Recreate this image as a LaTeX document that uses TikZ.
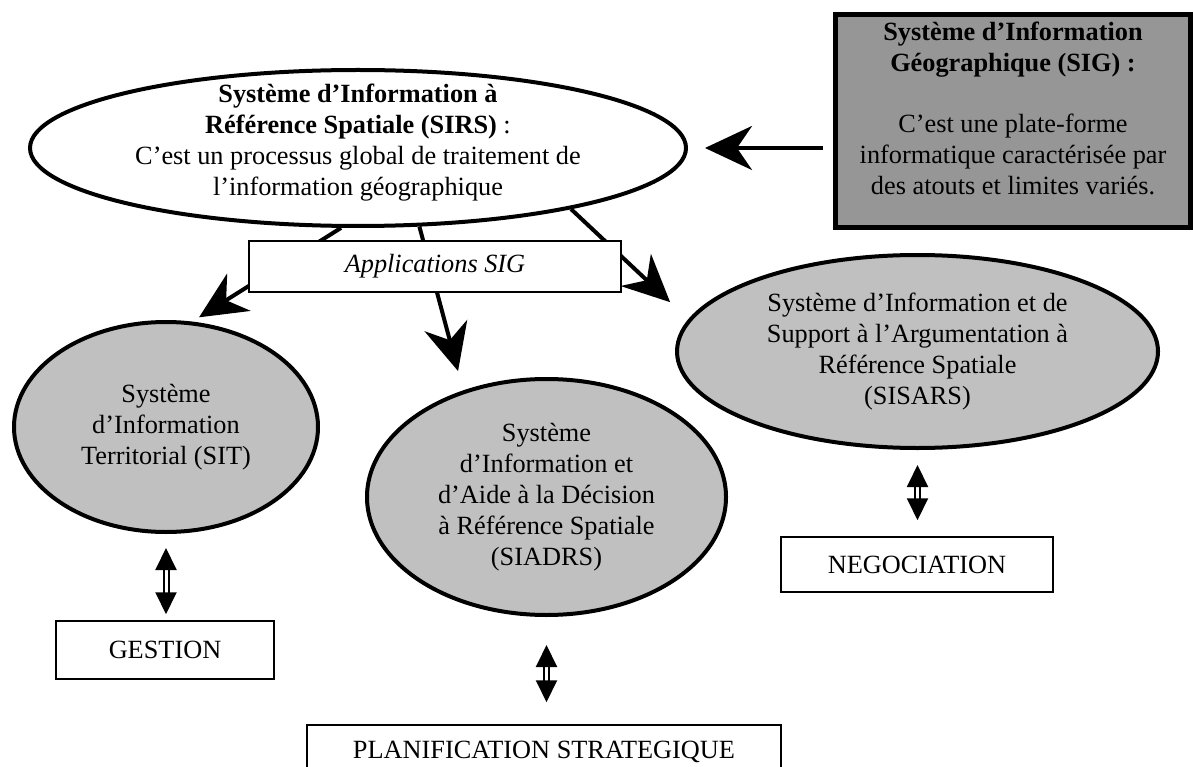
\documentclass[tikz,border=0pt]{standalone}
\usepackage{fontspec}
\setmainfont{Liberation Serif}
\usetikzlibrary{shapes.geometric, arrows.meta}

\begin{document}
\begin{tikzpicture}[x=1pt, y=-1pt,
        every node/.style={align=center, inner sep=0pt, font=\fontsize{26.3}{31}\selectfont},
        ell/.style={ellipse, draw, line width=4pt},
        grayell/.style={ell, fill={rgb,255:red,192;green,192;blue,192}},
        sigbox/.style={rectangle, draw, line width=5pt, fill={rgb,255:red,150;green,150;blue,150}},
        labelbox/.style={rectangle, draw, line width=1.5pt, fill=white},
        arrow/.style={line width=4pt, -{Stealth[length=47pt, width=44pt, inset=15pt]}},
        dblarrow/.style={double, double distance=3pt, line width=2pt,
            {Triangle[length=22pt, width=21pt]}-{Triangle[length=22pt, width=21pt]}}
    ]
    \useasboundingbox (0,0) rectangle (1193,767);

    % Nodes
    \node[ell, fill=white, minimum width=656pt, minimum height=156pt] (sirs) at (358,148) {};
    \node (sirstext) at (358,143)
        {\textbf{Système d’Information à}\\\textbf{Référence Spatiale (SIRS)} :\\C’est un processus global de traitement de\\l’information géographique};
    \node[sigbox, minimum width=355pt, minimum height=213pt] (sig) at (1013,121) {};
    \node (sigtext) at (1013,108)
        {\textbf{Système d’Information}\\\textbf{Géographique (SIG) :}\\[30pt]C’est une plate-forme\\informatique caractérisée par\\des atouts et limites variés.};

    \node[grayell, minimum width=304pt, minimum height=210pt] (sit) at (166,427)
        {Système\\d’Information\\Territorial (SIT)};
    \node[grayell, minimum width=359pt, minimum height=236pt] (siadrs) at (546.5,497)
        {Système\\d’Information et\\d’Aide à la Décision\\à Référence Spatiale\\(SIADRS)};
    \node[grayell, minimum width=481pt, minimum height=193pt] (sisars) at (917.5,351.5)
        {Système d’Information et de\\Support à l’Argumentation à\\Référence Spatiale\\(SISARS)};

    \node[labelbox, minimum width=218pt, minimum height=58pt] (gestion) at (165,650) {GESTION};
    \node[labelbox, minimum width=474pt, minimum height=54pt] (planif) at (544,752) {PLANIFICATION STRATEGIQUE};
    \node[labelbox, minimum width=272pt, minimum height=55pt] (negoc) at (917,564.5) {NEGOCIATION};

    % Arrows
    \draw[arrow, shorten <=10pt, shorten >=17pt] (sirs.east -| sig.west) -- (sirs.east);
    \draw[arrow, shorten >=8pt] (sirs.258) -- (sit.76);
    \draw[arrow, shorten >=20pt] (sirs.-52) -- (siadrs.128);
    \draw[arrow, shorten >=25pt] (sirs.-16) -- (sisars.172);

    \node[labelbox, minimum width=372pt, minimum height=51pt, font=\fontsize{26.3}{31}\selectfont\itshape] (apps) at (435,266.5) {Applications SIG};

    \draw[dblarrow, shorten <=14pt, shorten >=6pt] (sit.south) -- (sit.south |- gestion.north);
    \draw[dblarrow, shorten <=28pt, shorten >=22pt] (siadrs.south) -- (siadrs.south |- planif.north);
    \draw[dblarrow, shorten <=15pt, shorten >=16pt] (sisars.south) -- (sisars.south |- negoc.north);
\end{tikzpicture}
\end{document}
